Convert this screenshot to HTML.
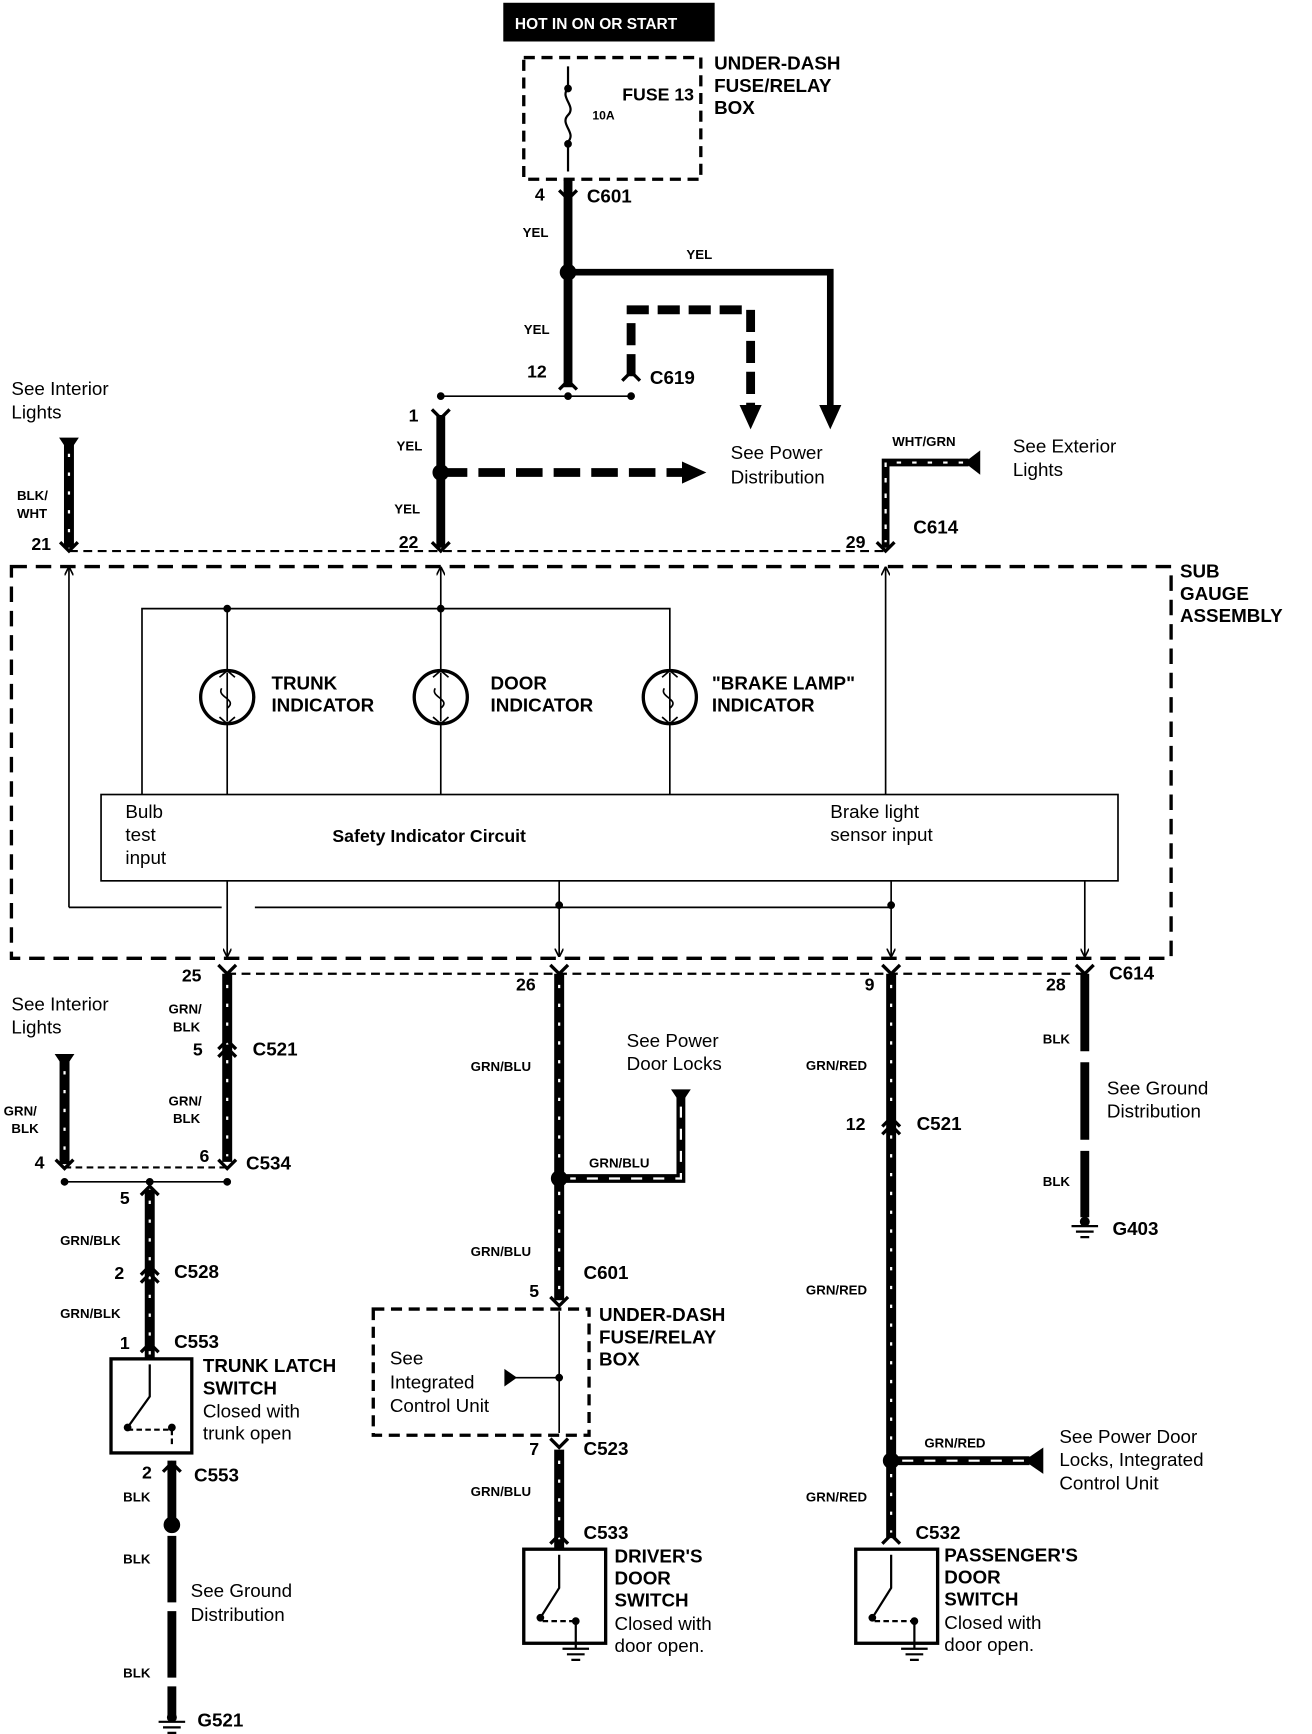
<!DOCTYPE html>
<html><head><meta charset="utf-8"><style>
html,body{margin:0;padding:0;background:#fff;}
svg{display:block}
text{font-family:"Liberation Sans",sans-serif;fill:#000}
.b{font-weight:bold;font-size:17px}
.n{font-size:17px}
.s{font-weight:bold;font-size:12px}
.num{font-weight:bold;font-size:16px}
</style></head><body>
<svg width="1312" height="1734" viewBox="0 0 1185 1567" xmlns="http://www.w3.org/2000/svg">
<defs>
<marker id="ah" markerWidth="8" markerHeight="8" refX="7" refY="4" orient="auto" markerUnits="userSpaceOnUse"><path d="M0,0 L8,4 L0,8" fill="none" stroke="#000" stroke-width="1.5"/></marker>
<marker id="AH" markerWidth="24" markerHeight="24" refX="4" refY="12" orient="auto" markerUnits="userSpaceOnUse"><path d="M0,2 L22,12 L0,22 Z" fill="#000"/></marker>
</defs>
<g fill="none" stroke="#000">
<rect x="455" y="3" width="190" height="34" fill="#000"/>
<rect x="473" y="52" width="160" height="110" stroke-width="3" stroke-dasharray="10,6"/>
<path d="M513,60 V80 C505,88 521,96 513,104 C505,112 521,120 513,128 V155" stroke-width="2"/>
<circle cx="513" cy="80" r="3" fill="#000"/><circle cx="513" cy="130" r="3" fill="#000"/>
<path d="M513,162 V350" stroke-width="8"/>
<path d="M505,172 L513,180 L521,172" stroke-width="3"/>
<path d="M513,246 H750 V370" stroke-width="6" marker-end="url(#AH)"/>
<path d="M570,340 V280 H678 V370" stroke-width="8" stroke-dasharray="20,8" marker-end="url(#AH)"/>
<path d="M505,352 L513,344 L521,352 M562,344 L570,336 L578,344" stroke-width="3"/>
<path d="M398,358 H570" stroke-width="1.5"/>
<circle cx="398" cy="358" r="3" fill="#000"/><circle cx="513" cy="358" r="3" fill="#000"/><circle cx="570" cy="358" r="3" fill="#000"/>
<path d="M398,375 V495" stroke-width="8"/>
<path d="M390,370 L398,378 L406,370" stroke-width="3"/>
<circle cx="513" cy="246" r="7" fill="#000"/>
<circle cx="398" cy="427" r="7" fill="#000"/>
<path d="M398,427 H620" stroke-width="8" stroke-dasharray="24,10" marker-end="url(#AH)"/>
<path d="M54,396 H70 L62,408 Z" fill="#000"/>
<path d="M62,400 V495" stroke-width="9"/><path d="M62,410 V490" stroke="#fff" stroke-width="2" stroke-dasharray="3,14"/>
<path d="M885,408 V428 L872,418 Z" fill="#000"/>
<path d="M875,418 H800 V495" stroke-width="7"/><path d="M870,418 H800 V490" stroke="#fff" stroke-width="2" stroke-dasharray="4,10"/>
<path d="M54,490 L62,498 L70,490 M390,490 L398,498 L406,490 M792,490 L800,498 L808,490" stroke-width="3"/>
<path d="M62,498 H800" stroke-width="2" stroke-dasharray="8,5"/>
<rect x="10" y="512" width="1048" height="354" stroke-width="3" stroke-dasharray="14,8"/>
<path d="M62,820 V513" stroke-width="1.5" marker-end="url(#ah)"/>
<path d="M398,550 V513" stroke-width="1.5" marker-end="url(#ah)"/>
<path d="M800,718 V513" stroke-width="1.5" marker-end="url(#ah)"/>
<path d="M62,820 H200 M230,820 H805" stroke-width="1.5"/>
<path d="M128,718 V550 H605 V605 M205,550 V605 M205,655 V718 M398,605 V550 M398,655 V718 M605,655 V718" stroke-width="1.5"/>
<circle cx="205" cy="550" r="3" fill="#000"/><circle cx="398" cy="550" r="3" fill="#000"/>
<g stroke-width="3"><circle cx="205" cy="630" r="24"/><circle cx="398" cy="630" r="24"/><circle cx="605" cy="630" r="24"/></g>
<g stroke-width="1.5"><path d="M205,608 V652 M200,622 C195,630 215,632 205,640 M398,608 V652 M393,622 C388,630 408,632 398,640 M605,608 V652 M600,622 C595,630 615,632 605,640"/>
<path d="M198,612 L205,606 L212,612 M198,648 L205,654 L212,648 M391,612 L398,606 L405,612 M391,648 L398,654 L405,648 M598,612 L605,606 L612,612 M598,648 L605,654 L612,648"/></g>
<rect x="91" y="718" width="919" height="78" stroke-width="1.5"/>
<path d="M205,796 V864" stroke-width="1.5" marker-end="url(#ah)"/>
<path d="M505,796 V864" stroke-width="1.5" marker-end="url(#ah)"/>
<path d="M805,796 V864" stroke-width="1.5" marker-end="url(#ah)"/>
<path d="M980,796 V864" stroke-width="1.5" marker-end="url(#ah)"/>
<circle cx="505" cy="818" r="3" fill="#000"/><circle cx="805" cy="818" r="3" fill="#000"/>
<path d="M205,880 H980" stroke-width="2" stroke-dasharray="8,5"/>
<path d="M197,872 L205,880 L213,872 M497,872 L505,880 L513,872 M797,872 L805,880 L813,872 M972,872 L980,880 L988,872" stroke-width="3"/>
<path d="M205,880 V1050" stroke-width="9"/><path d="M205,890 V1045" stroke="#fff" stroke-width="2" stroke-dasharray="3,14"/>
<path d="M197,948 L205,940 L213,948 M197,955 L205,947 L213,955" stroke-width="3"/>
<path d="M50,953 H66 L58,965 Z" fill="#000"/>
<path d="M58,958 V1052" stroke-width="9"/><path d="M58,968 V1045" stroke="#fff" stroke-width="2" stroke-dasharray="3,14"/>
<path d="M50,1048 L58,1056 L66,1048 M197,1048 L205,1056 L213,1048" stroke-width="3"/>
<path d="M58,1055 H205" stroke-width="2" stroke-dasharray="6,4"/>
<path d="M58,1068 H205" stroke-width="1.5"/>
<circle cx="58" cy="1068" r="3" fill="#000"/><circle cx="135" cy="1068" r="3" fill="#000"/><circle cx="205" cy="1068" r="3" fill="#000"/>
<path d="M135,1075 V1228" stroke-width="9"/><path d="M135,1085 V1225" stroke="#fff" stroke-width="2" stroke-dasharray="3,14"/>
<path d="M127,1080 L135,1072 L143,1080 M127,1152 L135,1144 L143,1152 M127,1159 L135,1151 L143,1159 M127,1222 L135,1214 L143,1222" stroke-width="3"/>
<rect x="100" y="1228" width="73" height="85" stroke-width="3"/>
<path d="M135,1233 V1262 L115,1290" stroke-width="2"/><circle cx="115" cy="1290" r="3" fill="#000"/>
<path d="M115,1292 H155 V1305" stroke-width="2" stroke-dasharray="5,3"/><circle cx="155" cy="1290" r="3" fill="#000"/>
<path d="M155,1320 V1550" stroke-width="8" stroke-dasharray="60,8"/>
<path d="M147,1330 L155,1322 L163,1330" stroke-width="3"/>
<circle cx="155" cy="1378" r="7" fill="#000"/>
<path d="M505,880 V1175" stroke-width="9"/><path d="M505,890 V1170" stroke="#fff" stroke-width="2" stroke-dasharray="3,14"/>
<path d="M607,985 H623 L615,997 Z" fill="#000"/>
<path d="M615,990 V1065 H505" stroke-width="8"/><path d="M615,1000 V1065 H515" stroke="#fff" stroke-width="2" stroke-dasharray="10,10"/>
<circle cx="505" cy="1065" r="7" fill="#000"/>
<path d="M497,1172 L505,1180 L513,1172" stroke-width="3"/>
<rect x="337" y="1183" width="195" height="114" stroke-width="3" stroke-dasharray="10,6"/>
<path d="M505,1185 V1295" stroke-width="1.5"/>
<path d="M460,1245 H505" stroke-width="1.5"/><path d="M456,1238 V1252 L466,1245 Z" fill="#000"/>
<circle cx="505" cy="1245" r="3" fill="#000"/>
<path d="M497,1300 L505,1308 L513,1300" stroke-width="3"/>
<path d="M505,1310 V1400" stroke-width="9"/><path d="M505,1320 V1395" stroke="#fff" stroke-width="2" stroke-dasharray="3,14"/>
<path d="M497,1395 L505,1387 L513,1395" stroke-width="3"/>
<rect x="473" y="1400" width="74" height="85" stroke-width="3"/>
<path d="M505,1405 V1435 L488,1462" stroke-width="2"/><circle cx="488" cy="1462" r="3" fill="#000"/>
<path d="M490,1465 H520" stroke-width="2" stroke-dasharray="5,3"/><circle cx="520" cy="1465" r="3" fill="#000"/>
<path d="M520,1465 V1490 M508,1490 H532 M512,1495 H528 M516,1500 H524" stroke-width="2"/>
<path d="M805,880 V1390" stroke-width="9"/><path d="M805,890 V1385" stroke="#fff" stroke-width="2" stroke-dasharray="3,14"/>
<path d="M797,1018 L805,1010 L813,1018 M797,1025 L805,1017 L813,1025" stroke-width="3"/>
<circle cx="805" cy="1320" r="7" fill="#000"/>
<path d="M805,1320 H930" stroke-width="8"/><path d="M815,1320 H925" stroke="#fff" stroke-width="2" stroke-dasharray="10,10"/>
<path d="M942,1309 V1331 L926,1320 Z" fill="#000"/>
<path d="M797,1395 L805,1387 L813,1395" stroke-width="3"/>
<rect x="773" y="1400" width="74" height="85" stroke-width="3"/>
<path d="M805,1405 V1435 L788,1462" stroke-width="2"/><circle cx="788" cy="1462" r="3" fill="#000"/>
<path d="M790,1465 H826" stroke-width="2" stroke-dasharray="5,3"/><circle cx="826" cy="1465" r="3" fill="#000"/>
<path d="M826,1465 V1490 M814,1490 H838 M818,1495 H834 M822,1500 H830" stroke-width="2"/>
<path d="M980,880 V1100" stroke-width="8" stroke-dasharray="70,10"/>
<path d="M980,1100 V1105 M968,1108 H992 M972,1113 H988 M976,1118 H984" stroke-width="2"/>
<circle cx="980" cy="1104" r="4" fill="#000"/>
<path d="M155,1550 V1553 M143,1556 H167 M147,1561 H163 M151,1566 H159" stroke-width="2"/>
<circle cx="155" cy="1552" r="4" fill="#000"/>
</g>
<text x="465" y="26" class="s" style="fill:#fff;font-size:14px">HOT IN ON OR START</text>
<text x="562" y="91" style="font-weight:bold;font-size:16px">FUSE 13</text><text x="535" y="108" class="s" style="font-size:11px">10A</text>
<text class="b" x="645" y="63">UNDER-DASH</text><text class="b" x="645" y="83">FUSE/RELAY</text><text class="b" x="645" y="103">BOX</text>
<text class="num" x="483" y="181">4</text><text class="b" x="530" y="183">C601</text>
<text class="s" x="472" y="214">YEL</text><text class="s" x="620" y="234">YEL</text><text class="s" x="473" y="302">YEL</text>
<text class="num" x="476" y="341">12</text><text class="b" x="587" y="347">C619</text>
<text class="num" x="369" y="381">1</text><text class="s" x="358" y="407">YEL</text><text class="s" x="356" y="464">YEL</text>
<text class="n" x="660" y="415">See Power</text><text class="n" x="660" y="437">Distribution</text>
<text class="n" x="10" y="357">See Interior</text><text class="n" x="10" y="378">Lights</text>
<text class="s" x="15" y="452">BLK/</text><text class="s" x="15" y="468">WHT</text>
<text class="num" x="28" y="497">21</text><text class="num" x="360" y="495">22</text><text class="num" x="764" y="495">29</text>
<text class="s" x="806" y="403">WHT/GRN</text><text class="b" x="825" y="482">C614</text>
<text class="n" x="915" y="409">See Exterior</text><text class="n" x="915" y="430">Lights</text>
<text class="b" x="1066" y="522">SUB</text><text class="b" x="1066" y="542">GAUGE</text><text class="b" x="1066" y="562">ASSEMBLY</text>
<text class="b" x="245" y="623">TRUNK</text><text class="b" x="245" y="643">INDICATOR</text>
<text class="b" x="443" y="623">DOOR</text><text class="b" x="443" y="643">INDICATOR</text>
<text class="b" x="643" y="623">"BRAKE LAMP"</text><text class="b" x="643" y="643">INDICATOR</text>
<text class="n" x="113" y="739">Bulb</text><text class="n" x="113" y="760">test</text><text class="n" x="113" y="781">input</text>
<text x="300" y="761" style="font-weight:bold;font-size:16px">Safety Indicator Circuit</text>
<text class="n" x="750" y="739">Brake light</text><text class="n" x="750" y="760">sensor input</text>
<text class="num" x="164" y="887">25</text><text class="num" x="466" y="895">26</text><text class="num" x="781" y="895">9</text><text class="num" x="945" y="895">28</text>
<text class="b" x="1002" y="885">C614</text>
<text class="n" x="10" y="913">See Interior</text><text class="n" x="10" y="934">Lights</text>
<text class="s" x="152" y="916">GRN/</text><text class="s" x="156" y="932">BLK</text>
<text class="num" x="174" y="954">5</text><text class="b" x="228" y="954">C521</text>
<text class="s" x="152" y="999">GRN/</text><text class="s" x="156" y="1015">BLK</text>
<text class="s" x="3" y="1008">GRN/</text><text class="s" x="10" y="1024">BLK</text>
<text class="num" x="31" y="1056">4</text><text class="num" x="180" y="1050">6</text><text class="b" x="222" y="1057">C534</text>
<text class="num" x="108" y="1088">5</text>
<text class="s" x="54" y="1125">GRN/BLK</text>
<text class="num" x="103" y="1156">2</text><text class="b" x="157" y="1155">C528</text>
<text class="s" x="54" y="1191">GRN/BLK</text>
<text class="num" x="108" y="1219">1</text><text class="b" x="157" y="1218">C553</text>
<text class="b" x="183" y="1240">TRUNK LATCH</text><text class="b" x="183" y="1260">SWITCH</text>
<text class="n" x="183" y="1281">Closed with</text><text class="n" x="183" y="1301">trunk open</text>
<text class="num" x="128" y="1336">2</text><text class="b" x="175" y="1339">C553</text>
<text class="s" x="111" y="1357">BLK</text><text class="s" x="111" y="1413">BLK</text><text class="s" x="111" y="1516">BLK</text>
<text class="n" x="172" y="1443">See Ground</text><text class="n" x="172" y="1465">Distribution</text>
<text class="b" x="178" y="1560">G521</text>
<text class="s" x="425" y="968">GRN/BLU</text>
<text class="n" x="566" y="946">See Power</text><text class="n" x="566" y="967">Door Locks</text>
<text class="s" x="532" y="1055">GRN/BLU</text><text class="s" x="425" y="1135">GRN/BLU</text>
<text class="b" x="527" y="1156">C601</text><text class="num" x="478" y="1172">5</text>
<text class="b" x="541" y="1194">UNDER-DASH</text><text class="b" x="541" y="1214">FUSE/RELAY</text><text class="b" x="541" y="1234">BOX</text>
<text class="n" x="352" y="1233">See</text><text class="n" x="352" y="1255">Integrated</text><text class="n" x="352" y="1276">Control Unit</text>
<text class="num" x="478" y="1315">7</text><text class="b" x="527" y="1315">C523</text>
<text class="s" x="425" y="1352">GRN/BLU</text><text class="b" x="527" y="1391">C533</text>
<text class="b" x="555" y="1412">DRIVER'S</text><text class="b" x="555" y="1432">DOOR</text><text class="b" x="555" y="1452">SWITCH</text>
<text class="n" x="555" y="1473">Closed with</text><text class="n" x="555" y="1493">door open.</text>
<text class="s" x="728" y="967">GRN/RED</text>
<text class="num" x="764" y="1021">12</text><text class="b" x="828" y="1021">C521</text>
<text class="s" x="728" y="1170">GRN/RED</text><text class="s" x="835" y="1308">GRN/RED</text>
<text class="n" x="957" y="1304">See Power Door</text><text class="n" x="957" y="1325">Locks, Integrated</text><text class="n" x="957" y="1346">Control Unit</text>
<text class="s" x="728" y="1357">GRN/RED</text><text class="b" x="827" y="1391">C532</text>
<text class="b" x="853" y="1411">PASSENGER'S</text><text class="b" x="853" y="1431">DOOR</text><text class="b" x="853" y="1451">SWITCH</text>
<text class="n" x="853" y="1472">Closed with</text><text class="n" x="853" y="1492">door open.</text>
<text class="s" x="942" y="943">BLK</text><text class="s" x="942" y="1072">BLK</text>
<text class="n" x="1000" y="989">See Ground</text><text class="n" x="1000" y="1010">Distribution</text>
<text class="b" x="1005" y="1116">G403</text>
</svg>
</body></html>
